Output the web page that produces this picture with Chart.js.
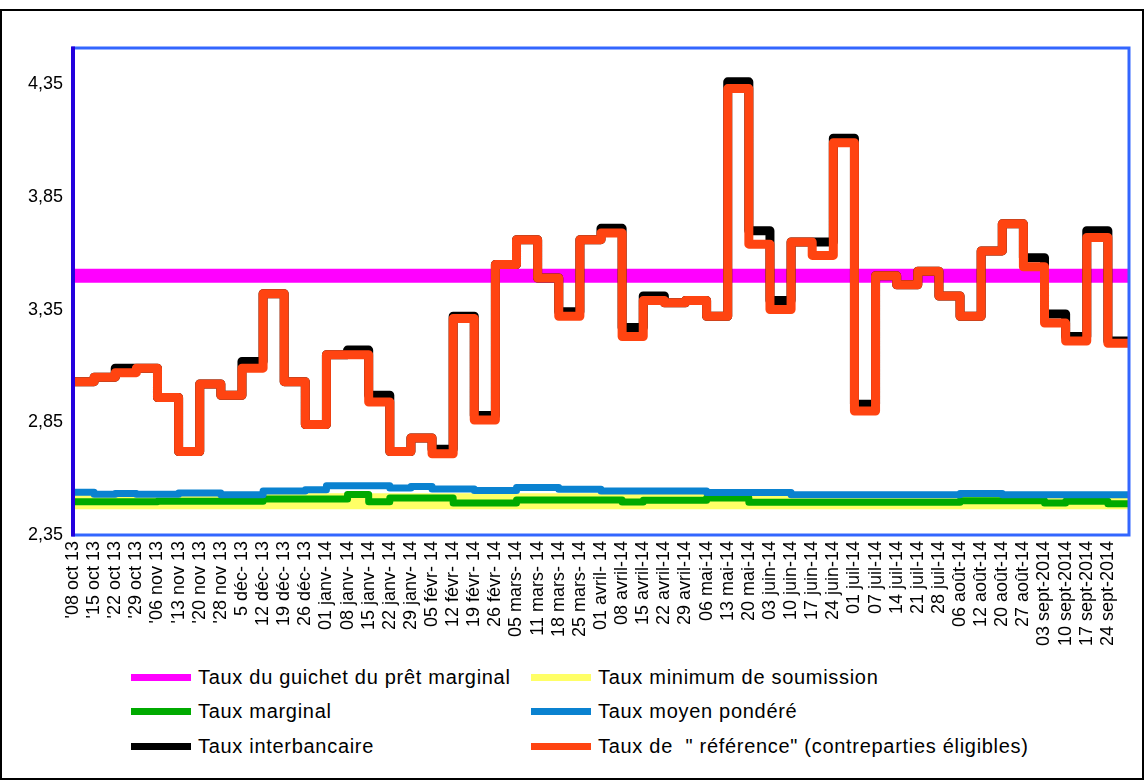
<!DOCTYPE html>
<html lang="fr">
<head>
<meta charset="utf-8">
<title>Taux du marché monétaire</title>
<script src="https://cdn.jsdelivr.net/npm/chart.js@4.4.1/dist/chart.umd.min.js"></script>
<style>
  html, body { margin: 0; padding: 0; background: #fff; }
  body { width: 1145px; height: 780px; position: relative; overflow: hidden;
         font-family: "Liberation Sans", Arial, sans-serif; }
  #frame { position: absolute; left: 0; top: 9px; width: 1140px; height: 767px; border: 2px solid #000; }
  #chartBox { position: absolute; left: 0; top: 0; width: 1145px; height: 660px; }
  #legend { position: absolute; left: 131px; top: 660px; display: grid;
            grid-template-columns: 400px 540px; grid-auto-rows: 34.5px; }
  .item { display: flex; align-items: center; font-size: 20px; letter-spacing: 0.7px;
          color: #000; white-space: pre; }
  .swatch { width: 60px; height: 7px; margin-right: 7px; }
</style>
</head>
<body>
<div id="frame"></div>
<div id="chartBox"><canvas id="chart"></canvas></div>
<div id="legend"></div>
<script>
// weekly tick labels, as printed on the axis
const WEEK_LABELS = [
  "'08 oct 13", "'15 oct 13", "'22 oct 13", "'29 oct 13", "'06 nov 13",
  "'13 nov 13", "'20 nov 13", "'28 nov 13", "5 déc- 13", "12 déc- 13",
  "19 déc- 13", "26 déc- 13", "01 janv- 14", "08 janv- 14", "15 janv- 14",
  "22 janv- 14", "29 janv- 14", "05 févr- 14", "12 févr- 14", "19 févr- 14",
  "26 févr- 14", "05 mars- 14", "11 mars- 14", "18 mars- 14", "25 mars- 14",
  "01 avril- 14", "08 avril-14", "15 avril-14", "22 avril-14", "29 avril-14",
  "06 mai-14", "13 mai-14", "20 mai-14", "03 juin-14", "10 juin-14",
  "17 juin-14", "24 juin-14", "01 juil-14", "07 juil-14", "14 juil-14",
  "21 juil-14", "28 juil-14", "06 août-14", "12 août-14", "20 août-14",
  "27 août-14", "03 sept-2014", "10 sept-2014", "17 sept-2014", "24 sept-2014"
];

const Y_TICKS = [2.35, 2.85, 3.35, 3.85, 4.35];

// one value per week
const tauxGuichet = [
  3.50, 3.50, 3.50, 3.50, 3.50, 3.50, 3.50, 3.50, 3.50, 3.50,
  3.50, 3.50, 3.50, 3.50, 3.50, 3.50, 3.50, 3.50, 3.50, 3.50,
  3.50, 3.50, 3.50, 3.50, 3.50, 3.50, 3.50, 3.50, 3.50, 3.50,
  3.50, 3.50, 3.50, 3.50, 3.50, 3.50, 3.50, 3.50, 3.50, 3.50,
  3.50, 3.50, 3.50, 3.50, 3.50, 3.50, 3.50, 3.50, 3.50, 3.50
];
const tauxMinimum = [
  2.50, 2.50, 2.50, 2.50, 2.50, 2.50, 2.50, 2.50, 2.50, 2.50,
  2.50, 2.50, 2.50, 2.50, 2.50, 2.50, 2.50, 2.50, 2.50, 2.50,
  2.50, 2.50, 2.50, 2.50, 2.50, 2.50, 2.50, 2.50, 2.50, 2.50,
  2.50, 2.50, 2.50, 2.50, 2.50, 2.50, 2.50, 2.50, 2.50, 2.50,
  2.50, 2.50, 2.50, 2.50, 2.50, 2.50, 2.50, 2.50, 2.50, 2.50
];
const tauxMarginal = [
  2.497, 2.497, 2.497, 2.497, 2.500, 2.500, 2.500, 2.500, 2.500, 2.510,
  2.510, 2.510, 2.510, 2.530, 2.498, 2.514, 2.514, 2.514, 2.492, 2.492,
  2.492, 2.505, 2.505, 2.505, 2.505, 2.505, 2.496, 2.504, 2.504, 2.504,
  2.514, 2.514, 2.495, 2.495, 2.495, 2.495, 2.495, 2.495, 2.495, 2.495,
  2.495, 2.495, 2.502, 2.502, 2.502, 2.502, 2.492, 2.500, 2.500, 2.489
];
const tauxMoyen = [
  2.540, 2.531, 2.534, 2.531, 2.531, 2.536, 2.536, 2.528, 2.528, 2.545,
  2.545, 2.551, 2.568, 2.568, 2.568, 2.558, 2.565, 2.554, 2.554, 2.547,
  2.547, 2.561, 2.561, 2.553, 2.553, 2.545, 2.545, 2.545, 2.545, 2.545,
  2.538, 2.538, 2.538, 2.538, 2.528, 2.528, 2.528, 2.528, 2.528, 2.528,
  2.528, 2.528, 2.534, 2.534, 2.528, 2.528, 2.528, 2.528, 2.528, 2.528
];
const tauxInterbancaire = [
  3.03, 3.05, 3.09, 3.09, 2.96, 2.72, 3.02, 2.97, 3.12, 3.42,
  3.03, 2.84, 3.15, 3.17, 2.97, 2.72, 2.78, 2.73, 3.32, 2.88,
  3.55, 3.66, 3.49, 3.34, 3.66, 3.71, 3.27, 3.41, 3.38, 3.39,
  3.32, 4.36, 3.70, 3.39, 3.65, 3.65, 4.11, 2.93, 3.50, 3.46,
  3.52, 3.41, 3.32, 3.61, 3.73, 3.58, 3.33, 3.23, 3.70, 3.21
];
const tauxReference = [
  3.03, 3.05, 3.07, 3.09, 2.96, 2.72, 3.02, 2.97, 3.09, 3.42,
  3.03, 2.84, 3.15, 3.15, 2.94, 2.72, 2.78, 2.71, 3.31, 2.86,
  3.55, 3.66, 3.49, 3.32, 3.66, 3.69, 3.23, 3.39, 3.38, 3.39,
  3.32, 4.33, 3.64, 3.35, 3.65, 3.59, 4.09, 2.90, 3.50, 3.46,
  3.52, 3.41, 3.32, 3.61, 3.73, 3.54, 3.29, 3.21, 3.67, 3.20
];

// legend order (rows of two), drawing order is the reverse
const SERIES = [
  { label: "Taux du guichet du prêt marginal", values: tauxGuichet, color: "#ff00ff", width: 14 },
  { label: "Taux minimum de soumission", values: tauxMinimum, color: "#ffff66", width: 16 },
  { label: "Taux marginal", values: tauxMarginal, color: "#00aa00", width: 7 },
  { label: "Taux moyen pondéré", values: tauxMoyen, color: "#0a82d0", width: 7 },
  { label: "Taux interbancaire", values: tauxInterbancaire, color: "#000000", width: 9 },
  { label: "Taux de  \" référence\" (contreparties éligibles)", values: tauxReference, color: "#ff4411", width: 9 }
];

// each week's rate holds from its label up to the next one
function toSteps(values) {
  const pts = values.map((v, i) => ({ x: i, y: v }));
  pts.push({ x: values.length, y: values[values.length - 1] });
  return pts;
}

const plotFrame = {
  id: "plotFrame",
  afterDatasetsDraw(chart) {
    const { ctx, chartArea: a } = chart;
    ctx.save();
    ctx.lineWidth = 3;
    ctx.strokeStyle = "#3366ff";
    ctx.strokeRect(a.left, a.top, a.right - a.left, a.bottom - a.top);
    ctx.strokeStyle = "#2200dd";
    ctx.lineWidth = 4;
    ctx.beginPath();
    ctx.moveTo(a.left, a.top - 1.5);
    ctx.lineTo(a.left, a.bottom + 1.5);
    ctx.stroke();
    ctx.restore();
  }
};

const TICK_FONT = { family: "'Liberation Sans', Arial, sans-serif", size: 18 };

const CONFIG = {
  type: "line",
  data: {
    datasets: SERIES.slice().reverse().map(s => ({
      label: s.label,
      data: toSteps(s.values),
      borderColor: s.color,
      backgroundColor: s.color,
      borderWidth: s.width,
      stepped: "before",
      pointRadius: 0,
      borderJoinStyle: "round",
      fill: false
    }))
  },
  options: {
    responsive: true,
    maintainAspectRatio: false,
    animation: false,
    layout: { padding: { top: 48, right: 16, left: 0, bottom: 0 } },
    plugins: { legend: { display: false }, tooltip: { enabled: false } },
    scales: {
      x: {
        type: "linear",
        min: 0,
        max: WEEK_LABELS.length,
        grid: { display: false, drawTicks: false },
        border: { display: false },
        afterBuildTicks: scale => { scale.ticks = WEEK_LABELS.map((_, i) => ({ value: i })); },
        afterFit: scale => { scale.height = 125; },
        ticks: {
          autoSkip: false,
          minRotation: 90,
          maxRotation: 90,
          padding: 6,
          color: "#000",
          font: TICK_FONT,
          callback: v => WEEK_LABELS[v]
        }
      },
      y: {
        min: 2.35,
        max: 4.51,
        grid: { display: false, drawTicks: false },
        border: { display: false },
        afterBuildTicks: scale => { scale.ticks = Y_TICKS.map(v => ({ value: v })); },
        afterFit: scale => { scale.width = 73; },
        ticks: {
          padding: 10,
          color: "#000",
          font: TICK_FONT,
          callback: v => v.toFixed(2).replace(".", ",")
        }
      }
    }
  },
  plugins: [plotFrame]
};

new Chart(document.getElementById("chart"), CONFIG);

const legendBox = document.getElementById("legend");
SERIES.forEach(s => {
  const item = document.createElement("div");
  item.className = "item";
  const sw = document.createElement("span");
  sw.className = "swatch";
  sw.style.background = s.color;
  item.appendChild(sw);
  item.appendChild(document.createTextNode(s.label));
  legendBox.appendChild(item);
});
</script>
</body>
</html>
